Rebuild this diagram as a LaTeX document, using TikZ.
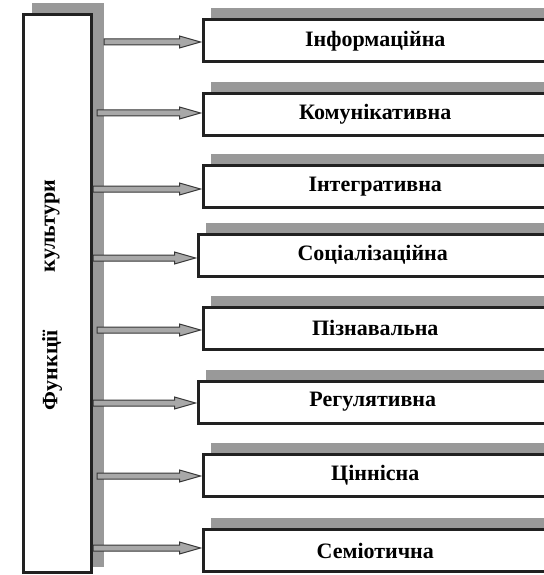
\documentclass[tikz,border=0pt]{standalone}
\usepackage{fontspec}
\setmainfont{Liberation Serif}
\usepackage{tikz}
\usetikzlibrary{calc,shadows}
\definecolor{shadowgray}{gray}{0.6}
\definecolor{arrowgray}{gray}{0.66}
\definecolor{edgedark}{gray}{0.13}

\begin{document}
\begin{tikzpicture}[
    x=1pt,y=-1pt,
    funcbox/.style={draw=edgedark,line width=3pt,fill=white,minimum height=42pt,
      anchor=west,inner sep=0pt,font=\fontsize{22}{26}\selectfont\bfseries,
      drop shadow={shadow xshift=7.5pt,shadow yshift=11.5pt,fill=shadowgray,opacity=1}},
    mainbox/.style={draw=edgedark,line width=3pt,fill=white,minimum width=68pt,minimum height=558pt},
    vtext/.style={rotate=90,font=\fontsize{22}{26}\selectfont\bfseries},
    farrow/.style={draw=edgedark!90,line width=1pt,fill=arrowgray,line join=miter}
  ]
  \useasboundingbox (0,0) rectangle (543,575);

  %% Main box with its shadow
  \fill[shadowgray] (32,3) rectangle (104,567);
  \node[mainbox] (fn) at (57.5,293.5) {};
  \node[vtext] (kult) at (52,226) {культури};
  \node[vtext] (funk) at (52,370) {Функції};

  %% Function boxes
  \foreach \i/\bx/\by/\bw/\txt in {
      1/201.5/41/344.5/Інформаційна,
      2/201.5/114.5/344.5/Комунікативна,
      3/201.5/186.5/344.5/Інтегративна,
      4/196.5/255/349.5/Соціалізаційна,
      5/201.5/328/344.5/Пізнавальна,
      6/196.5/402/349.5/Регулятивна,
      7/201.5/475.5/344.5/Ціннісна,
      8/201.5/550.5/344.5/Семіотична}{
    \node[funcbox,minimum width=\bw pt] (b\i) at (\bx,\by) {\txt};
  }

  %% Arrow starts
  \foreach \i/\sx/\sy in {1/104/42,2/97/113,3/93/189,4/93/258,
      5/97/330,6/93/403,7/97/476,8/93/548}{
    \coordinate (s\i) at (\sx,\sy);
  }

  %% Arrows from main box to functions
  \foreach \i in {1,...,8}{
    \draw[farrow] let \p1=(s\i), \p2=(b\i.west) in
      (\x1,\y1+3pt) -- (\x2-22pt,\y1+3pt) -- (\x2-22pt,\y1+6pt) -- (\x2-1pt,\y1)
      -- (\x2-22pt,\y1-6pt) -- (\x2-22pt,\y1-3pt) -- (\x1,\y1-3pt) -- cycle;
  }
\end{tikzpicture}
\end{document}
